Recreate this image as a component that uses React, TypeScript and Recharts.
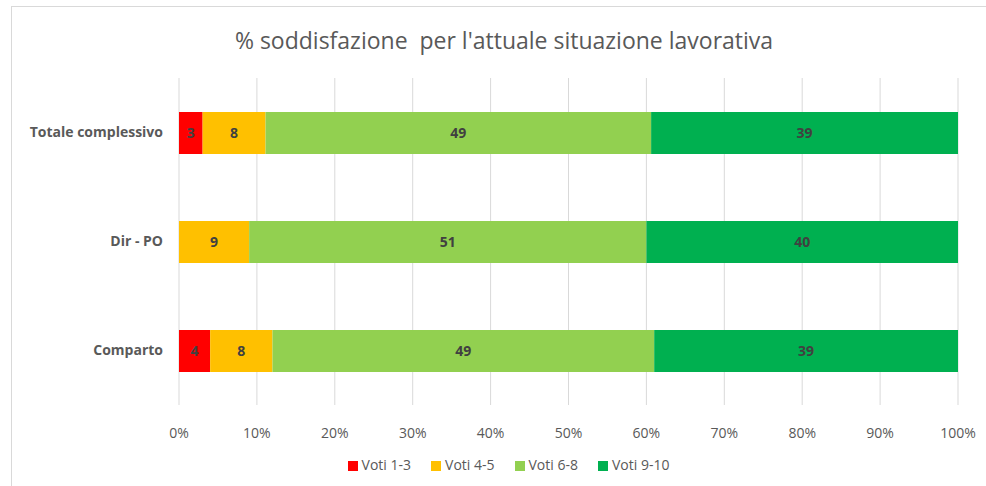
import {
    BarChart,
    Bar,
    XAxis,
    YAxis,
    CartesianGrid,
    Legend,
    LabelList,
} from "recharts";

const categories = ["Totale complessivo", "Dir - PO", "Comparto"];
const voti13 = [3, 0, 4];
const voti45 = [8, 9, 8];
const voti68 = [49, 51, 49];
const voti910 = [39, 40, 39];
const xTicks = [0, 0.1, 0.2, 0.3, 0.4, 0.5, 0.6, 0.7, 0.8, 0.9, 1];

const series = [
    { key: "v13", name: "Voti 1-3", color: "#FF0000" },
    { key: "v45", name: "Voti 4-5", color: "#FFC000" },
    { key: "v68", name: "Voti 6-8", color: "#92D050" },
    { key: "v910", name: "Voti 9-10", color: "#00B050" },
];

const data = categories.map((name, i) => ({
    name,
    v13: voti13[i],
    v45: voti45[i],
    v68: voti68[i],
    v910: voti910[i],
}));

const narrow = "'Liberation Sans Narrow', 'Open Sans', sans-serif";
const bold = "'Open Sans', sans-serif";

const formatPct = (v: number) => `${Math.round(v * 100)}%`;

export default function App() {
    return (
        <div
            style={{
                position: "absolute",
                left: 0,
                top: 0,
                width: 986,
                height: 486,
                overflow: "hidden",
                background: "#fff",
            }}
        >
            <div
                style={{
                    position: "absolute",
                    left: 11,
                    top: 6,
                    width: 1000,
                    height: 500,
                    border: "1px solid #d9d9d9",
                }}
            />
            <div
                style={{
                    position: "absolute",
                    left: 0,
                    width: 1008,
                    top: 24,
                    textAlign: "center",
                    fontFamily: narrow,
                    fontSize: 23,
                    color: "#595959",
                }}
            >
                % soddisfazione&nbsp; per l'attuale situazione lavorativa
            </div>
            <BarChart
                width={986}
                height={486}
                data={data}
                layout="vertical"
                stackOffset="expand"
                barSize={42}
                margin={{ top: 78, right: 28, left: 19, bottom: 12 }}
                style={{ position: "absolute", left: 0, top: 0 }}
            >
                <CartesianGrid
                    horizontal={false}
                    stroke="#d9d9d9"
                    strokeWidth={1}
                />
                <XAxis
                    type="number"
                    domain={[0, 1]}
                    ticks={xTicks}
                    tickFormatter={formatPct}
                    axisLine={false}
                    tickLine={false}
                    tickMargin={17}
                    height={50}
                    tick={{ fill: "#595959", fontSize: 14, fontFamily: narrow }}
                />
                <YAxis
                    type="category"
                    dataKey="name"
                    width={160}
                    axisLine={false}
                    tickLine={false}
                    tickMargin={10}
                    tick={{
                        fill: "#595959",
                        fontSize: 14,
                        fontWeight: 700,
                        fontFamily: bold,
                    }}
                />
                <Legend
                    verticalAlign="bottom"
                    iconType="square"
                    iconSize={10}
                    wrapperStyle={{
                        fontFamily: narrow,
                        fontSize: 14,
                        color: "#595959",
                        paddingLeft: 30,
                    }}
                    formatter={(value) => (
                        <span style={{ color: "#595959", paddingRight: 10 }}>
                            {value}
                        </span>
                    )}
                />
                {series.map((s) => (
                    <Bar
                        key={s.key}
                        dataKey={s.key}
                        name={s.name}
                        stackId="a"
                        fill={s.color}
                        isAnimationActive={false}
                    >
                        <LabelList
                            dataKey={s.key}
                            position="center"
                            formatter={(v: any) => (v ? v : "")}
                            fill="#404040"
                            fontSize={14}
                            fontWeight={700}
                            fontFamily={bold}
                        />
                    </Bar>
                ))}
            </BarChart>
        </div>
    );
}
